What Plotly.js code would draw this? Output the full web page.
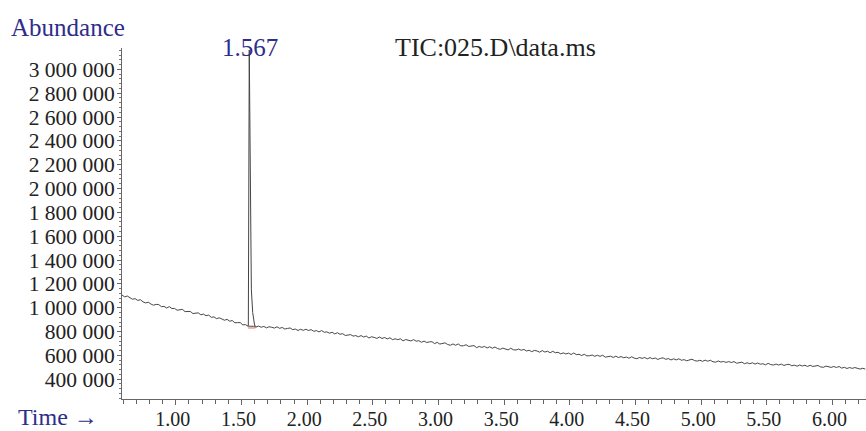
<!DOCTYPE html>
<html>
<head>
<meta charset="utf-8">
<script src="https://cdn.plot.ly/plotly-3.0.1.min.js"></script>
<style>
  html, body { margin: 0; padding: 0; background: #ffffff; }
  #chart { width: 866px; height: 431px; }
</style>
</head>
<body>
<div id="chart"></div>
<script>
// ---- Data ----
// Baseline TIC signal, sampled every 0.02 min starting at 0.59 min
const baselineStartTime = 0.59;
const baselineStep = 0.02;
const baselineAbundance = [
  1106e3,1091e3,1098e3,1082e3,1071e3,1076e3,1061e3,1067e3,1049e3,1040e3,
  1046e3,1031e3,1021e3,1028e3,1026e3,1009e3,1011e3,997e3,1009e3,993e3,
  994e3,979e3,983e3,986e3,967e3,965e3,969e3,951e3,957e3,957e3,
  941e3,946e3,933e3,938e3,919e3,923e3,908e3,915e3,906e3,895e3,
  902e3,887e3,892e3,873e3,875e3,875e3,856e3,858e3,845e3,847e3,
  844e3,837e3,846e3,836e3,843e3,831e3,840e3,836e3,829e3,840e3,
  827e3,834e3,821e3,826e3,830e3,816e3,821e3,809e3,819e3,810e3,
  819e3,809e3,816e3,802e3,808e3,797e3,808e3,794e3,797e3,786e3,
  794e3,780e3,790e3,777e3,782e3,767e3,773e3,774e3,762e3,766e3,
  756e3,766e3,754e3,762e3,746e3,756e3,751e3,742e3,754e3,742e3,
  750e3,738e3,748e3,732e3,739e3,732e3,739e3,722e3,733e3,724e3,
  721e3,732e3,719e3,723e3,710e3,720e3,708e3,713e3,715e3,699e3,
  709e3,695e3,702e3,705e3,691e3,685e3,696e3,685e3,696e3,680e3,
  681e3,689e3,675e3,680e3,682e3,665e3,675e3,667e3,675e3,662e3,
  672e3,660e3,670e3,657e3,651e3,661e3,656e3,646e3,660e3,647e3,
  645e3,653e3,643e3,650e3,637e3,643e3,631e3,642e3,637e3,627e3,
  640e3,628e3,635e3,622e3,634e3,622e3,626e3,613e3,621e3,612e3,
  619e3,607e3,620e3,606e3,609e3,599e3,609e3,596e3,597e3,603e3,
  592e3,601e3,592e3,601e3,585e3,592e3,593e3,583e3,593e3,582e3,
  590e3,580e3,586e3,576e3,588e3,577e3,572e3,582e3,575e3,582e3,
  571e3,581e3,572e3,578e3,566e3,575e3,579e3,567e3,573e3,562e3,
  571e3,562e3,571e3,559e3,564e3,555e3,564e3,568e3,556e3,552e3,
  559e3,550e3,560e3,551e3,559e3,546e3,543e3,553e3,544e3,549e3,
  541e3,548e3,540e3,548e3,534e3,541e3,543e3,530e3,538e3,530e3,
  538e3,527e3,536e3,526e3,530e3,521e3,533e3,523e3,519e3,527e3,
  519e3,527e3,515e3,523e3,525e3,513e3,518e3,509e3,519e3,511e3,
  517e3,507e3,517e3,507e3,511e3,515e3,503e3,500e3,510e3,502e3,
  499e3,507e3,498e3,507e3,493e3,500e3,490e3,498e3,491e3,498e3,
  494e3,485e3,492e3,485e3
];

// The single peak at 1.567 min
const peakTime      = [1.547, 1.552, 1.559, 1.575, 1.585, 1.600, 1.612];
const peakAbundance = [847e3, 850e3, 3162e3, 1150e3, 960e3, 850e3, 843e3];

// Integration baseline drawn under the peak
const integrationTime      = [1.549, 1.605];
const integrationAbundance = [830e3, 830e3];

const peakLabel = "1.567";
const peakLabelTime = 1.567;
const fileLabel = "TIC:025.D\\data.ms";

// Axis ticks
const xTickVals = [1.0, 1.5, 2.0, 2.5, 3.0, 3.5, 4.0, 4.5, 5.0, 5.5, 6.0];
const xTickText = ["1.00","1.50","2.00","2.50","3.00","3.50","4.00","4.50","5.00","5.50","6.00"];
const yTickVals = [400e3, 600e3, 800e3, 1000e3, 1200e3, 1400e3, 1600e3, 1800e3, 2000e3, 2200e3, 2400e3, 2600e3, 2800e3, 3000e3];
const yTickText = ["400 000","600 000","800 000","1 000 000","1 200 000","1 400 000","1 600 000","1 800 000","2 000 000","2 200 000","2 400 000","2 600 000","2 800 000","3 000 000"];

// ---- Drawing ----
const serif = "'Liberation Serif', 'Times New Roman', serif";
const blue = "#2e2d8a";

const traces = [
  {
    type: "scatter", mode: "lines",
    x0: baselineStartTime, dx: baselineStep, y: baselineAbundance,
    line: { color: "#333333", width: 0.9 },
    hoverinfo: "skip", showlegend: false
  },
  {
    type: "scatter", mode: "lines",
    x: peakTime, y: peakAbundance,
    line: { color: "#444444", width: 1 },
    hoverinfo: "skip", showlegend: false
  },
  {
    type: "scatter", mode: "lines",
    x: integrationTime, y: integrationAbundance,
    line: { color: "#e06a6a", width: 1 },
    hoverinfo: "skip", showlegend: false
  }
];

const layout = {
  width: 866, height: 431,
  margin: { l: 122, r: 0, t: 48, b: 32, pad: 0 },
  paper_bgcolor: "#ffffff",
  plot_bgcolor: "#ffffff",
  showlegend: false,
  font: { family: serif, color: "#222222" },
  xaxis: {
    range: [0.59, 6.255],
    showgrid: false, zeroline: false,
    showline: true, linecolor: "#666666", linewidth: 1,
    tickmode: "array", tickvals: xTickVals, ticktext: xTickText,
    ticks: "outside", ticklen: 5, tickcolor: "#666666", tickwidth: 1,
    tickfont: { family: serif, size: 20, color: "#222222" },
    ticklabelstandoff: -3,
    ticklabelshift: -3,
    minor: { tickmode: "linear", tick0: 0, dtick: 0.1, ticks: "outside", ticklen: 4, tickcolor: "#666666", tickwidth: 1 },
    fixedrange: true
  },
  yaxis: {
    range: [234e3, 3179e3],
    showgrid: false, zeroline: false,
    showline: true, linecolor: "#666666", linewidth: 1,
    tickmode: "array", tickvals: yTickVals, ticktext: yTickText,
    ticks: "outside", ticklen: 4, tickcolor: "#666666", tickwidth: 1,
    tickfont: { family: serif, size: 21.5, color: "#222222" },
    ticklabelstandoff: -2,
    minor: { tickmode: "linear", tick0: 0, dtick: 40000, ticks: "outside", ticklen: 2, tickcolor: "#777777", tickwidth: 1 },
    fixedrange: true
  },
  annotations: [
    {
      text: "Abundance", xref: "paper", yref: "paper",
      x: -0.1525, y: 1.058, xanchor: "left", yanchor: "middle",
      showarrow: false, font: { family: serif, size: 25, color: blue }
    },
    {
      text: peakLabel, xref: "x", yref: "paper",
      x: peakLabelTime, y: 1.0014, xanchor: "center", yanchor: "middle",
      showarrow: false, font: { family: serif, size: 25, color: blue }
    },
    {
      text: fileLabel, xref: "paper", yref: "paper",
      x: 0.364, y: 1.0014, xanchor: "left", yanchor: "middle",
      showarrow: false, font: { family: serif, size: 26, color: "#222222" }
    },
    {
      text: "Time \u2192", xref: "paper", yref: "paper",
      x: -0.1425, y: -0.052, xanchor: "left", yanchor: "middle",
      showarrow: false, font: { family: serif, size: 24, color: blue }
    }
  ]
};

Plotly.newPlot("chart", traces, layout, { displayModeBar: false, staticPlot: true });
</script>
</body>
</html>
